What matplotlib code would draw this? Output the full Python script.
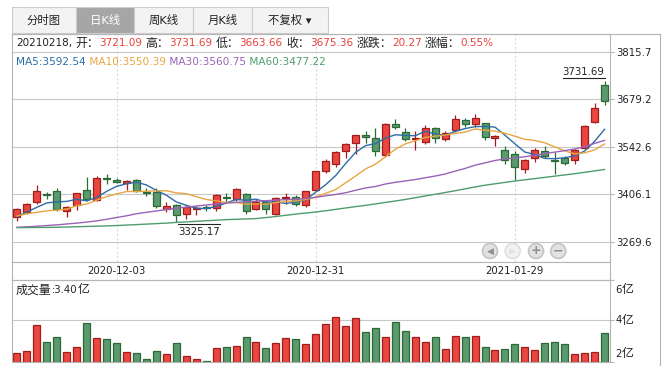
import numpy as np
import pandas as pd
import matplotlib
matplotlib.use("Agg")
import matplotlib.pyplot as plt
from matplotlib.patches import Rectangle, Circle
from matplotlib.transforms import blended_transform_factory

plt.rcParams['font.family'] = ['DejaVu Sans', 'Noto Sans CJK SC']
LAT = ['DejaVu Sans', 'Noto Sans CJK SC']
CJK = ['Noto Sans CJK SC', 'DejaVu Sans']

W, H = 667, 371
FS = 7.3      # latin text
FS_CJK = 8.6  # chinese glyphs are drawn larger in the original

# ---- data (SSE daily K, 2020-11-19 .. 2021-02-18) ----
dates = """2020-11-19 2020-11-20 2020-11-23 2020-11-24 2020-11-25 2020-11-26 2020-11-27 2020-11-30
2020-12-01 2020-12-02 2020-12-03 2020-12-04 2020-12-07 2020-12-08 2020-12-09 2020-12-10 2020-12-11
2020-12-14 2020-12-15 2020-12-16 2020-12-17 2020-12-18 2020-12-21 2020-12-22 2020-12-23 2020-12-24
2020-12-25 2020-12-28 2020-12-29 2020-12-30 2020-12-31 2021-01-04 2021-01-05 2021-01-06 2021-01-07
2021-01-08 2021-01-11 2021-01-12 2021-01-13 2021-01-14 2021-01-15 2021-01-18 2021-01-19 2021-01-20
2021-01-21 2021-01-22 2021-01-25 2021-01-26 2021-01-27 2021-01-28 2021-01-29 2021-02-01 2021-02-02
2021-02-03 2021-02-04 2021-02-05 2021-02-08 2021-02-09 2021-02-10 2021-02-18""".split()

opens = [3340, 3355, 3384, 3406, 3416, 3358, 3376, 3417, 3389, 3453,
         3447, 3437, 3446, 3412, 3413, 3364, 3376, 3349, 3364, 3369,
         3366, 3398, 3393, 3407, 3364, 3385, 3350, 3396, 3397, 3375,
         3419, 3474, 3492, 3530, 3552, 3576, 3568, 3518, 3609, 3585,
         3564, 3556, 3596, 3566, 3591, 3618, 3607, 3610, 3568, 3534,
         3521, 3478, 3510, 3530, 3503, 3510, 3504, 3539, 3613, 3721.09]
highs = [3366, 3381, 3432, 3413, 3423, 3372, 3410, 3456, 3457, 3465,
         3452, 3447, 3449, 3424, 3424, 3383, 3378, 3372, 3372, 3376,
         3407, 3409, 3424, 3410, 3393, 3390, 3398, 3411, 3405, 3415,
         3474, 3508, 3530, 3554, 3577, 3587, 3595, 3610, 3621, 3597,
         3589, 3606, 3600, 3588, 3633, 3625, 3636, 3612, 3575, 3544,
         3530, 3507, 3540, 3545, 3526, 3517, 3537, 3604, 3667, 3731.69]
lows = [3330, 3350, 3377, 3393, 3358, 3342, 3360, 3388, 3386, 3435,
        3437, 3418, 3412, 3400, 3367, 3356, 3325.17, 3335, 3345, 3357,
        3358, 3385, 3388, 3350, 3360, 3350, 3345, 3378, 3372, 3370,
        3414, 3467, 3483, 3510, 3523, 3554, 3515, 3513, 3593, 3559,
        3532, 3551, 3552, 3558, 3585, 3600, 3600, 3563, 3545, 3493,
        3447, 3467, 3500, 3510, 3465, 3490, 3492, 3536, 3610, 3663.66]
closes = [3363.09, 3377.73, 3414.49, 3402.82, 3362.33, 3369.73, 3408.31, 3391.76, 3451.94, 3449.38,
          3442.14, 3444.58, 3416.60, 3410.18, 3371.96, 3373.28, 3347.19, 3369.12, 3367.23, 3366.98,
          3404.87, 3394.90, 3420.57, 3356.78, 3382.32, 3363.11, 3396.56, 3397.29, 3379.04, 3414.45,
          3473.07, 3502.96, 3528.68, 3550.88, 3576.20, 3570.11, 3531.50, 3608.34, 3598.65, 3565.90,
          3566.38, 3596.22, 3566.28, 3583.09, 3621.26, 3606.75, 3624.24, 3569.43, 3573.34, 3505.18,
          3483.07, 3505.28, 3533.68, 3517.31, 3501.86, 3496.33, 3532.44, 3603.49, 3655.09, 3675.36]
# closes of the 9 sessions before the window, for MA5 / MA10
prev_closes = [3312.16, 3373.73, 3360.15, 3342.20, 3338.68, 3310.10, 3346.97, 3339.90, 3347.30]

ma30 = [3311.0, 3312.5, 3314.0, 3316.0, 3318.0, 3320.5, 3323.0, 3326.0, 3329.5, 3334.0,
        3339.0, 3344.0, 3350.0, 3354.0, 3358.0, 3362.0, 3366.0, 3369.0, 3372.0, 3375.0,
        3378.0, 3380.5, 3382.5, 3384.5, 3386.0, 3387.5, 3389.0, 3390.5, 3392.0, 3393.69,
        3397.36, 3401.53, 3405.34, 3410.27, 3417.40, 3424.08, 3428.19, 3435.41, 3440.30, 3444.18,
        3448.32, 3453.38, 3458.37, 3464.13, 3472.44, 3480.22, 3489.46, 3496.13, 3503.00, 3507.61,
        3510.22, 3513.89, 3517.66, 3523.01, 3527.00, 3531.44, 3535.97, 3542.84, 3552.04, 3560.75]
ma60 = [3310.0, 3310.2, 3310.5, 3310.7, 3311.0, 3311.8, 3312.6, 3313.4, 3314.2, 3315.0,
        3316.0, 3317.4, 3318.8, 3320.2, 3321.6, 3323.0, 3325.0, 3326.6, 3328.2, 3329.8,
        3331.4, 3333.0, 3334.0, 3335.0, 3336.0, 3339.0, 3342.0, 3345.5, 3349.0, 3352.0,
        3355.0, 3358.5, 3362.5, 3366.5, 3370.5, 3374.0, 3378.2, 3382.4, 3386.6, 3391.0,
        3396.0, 3401.0, 3406.0, 3411.0, 3416.0, 3421.5, 3427.0, 3432.0, 3436.0, 3440.0,
        3444.0, 3447.5, 3451.0, 3454.5, 3458.0, 3461.5, 3465.0, 3469.0, 3473.0, 3477.22]

# volume, 亿
vol = [2.48, 2.57, 3.77, 2.98, 3.21, 2.52, 2.75, 3.86, 3.17, 3.12,
       2.94, 2.52, 2.48, 2.20, 2.57, 2.43, 2.94, 2.34, 2.20, 2.11,
       2.71, 2.75, 2.81, 3.21, 2.98, 2.71, 2.94, 3.17, 3.12, 2.89,
       3.35, 3.81, 4.14, 3.72, 4.09, 3.44, 3.63, 3.21, 3.91, 3.49,
       3.21, 2.98, 3.21, 2.66, 3.27, 3.21, 3.27, 2.75, 2.62, 2.66,
       2.89, 2.75, 2.62, 2.94, 2.98, 2.89, 2.43, 2.48, 2.52, 3.40]

price_ticks = [3269.6, 3406.1, 3542.6, 3679.2, 3815.7]
vol_ticks = [2, 4, 6]
tick_dates = ['2020-12-03', '2020-12-31', '2021-01-29']
tabs = ['分时图', '日K线', '周K线', '月K线', '不复权 ▾']

RED, RED_EDGE = '#e8463e', '#a11d1d'
GREEN, GREEN_EDGE = '#5b9a6e', '#2b6a36'
TXT, VAL = '#222222', '#e8413b'
GRID, FRAME = '#c8c8c8', '#b5b5b5'
MA_COLORS = ['#2d6ca6', '#e8a542', '#9a62b6', '#4f9d6d']

o, h, l, c = map(np.array, (opens, highs, lows, closes))
x = np.arange(len(c))
s = pd.Series(prev_closes + closes)
ma5 = s.rolling(5).mean().to_numpy()[len(prev_closes):]
ma10 = s.rolling(10).mean().to_numpy()[len(prev_closes):]
up = c >= o
fill = np.where(up, RED, GREEN)
edge = np.where(up, RED_EDGE, GREEN_EDGE)
tick_idx = [dates.index(d) for d in tick_dates]


def rect(x0, y0, x1, y1):
    return [x0 / W, 1 - y1 / H, (x1 - x0) / W, (y1 - y0) / H]


fig = plt.figure(figsize=(W / 100, H / 100), dpi=100)
ax = fig.add_axes(rect(12, 33.5, 609.5, 262.3))
band = fig.add_axes(rect(12, 262.3, 609.5, 280))
axv = fig.add_axes(rect(12, 280, 609.5, 361.7))
over = fig.add_axes([0, 0, 1, 1], zorder=10)
over.set_xlim(0, W)
over.set_ylim(H, 0)
over.axis('off')
over.patch.set_alpha(0)

for a in (ax, band, axv):
    a.set_xlim(-0.5, len(c) - 0.5)
    for sp in a.spines.values():
        sp.set_color(FRAME)
        sp.set_linewidth(0.8)
    a.set_xticks(tick_idx)
    a.tick_params(axis='x', length=0, labelbottom=False)

# ---- price panel ----
ax.set_ylim(3210.39, 3868.0)
ax.vlines(x, l, h, colors=edge, lw=0.9, zorder=2)
ax.bar(x, np.abs(c - o), bottom=np.minimum(o, c), width=0.7, color=fill,
       edgecolor=edge, linewidth=0.9, zorder=3)
for ser, col in zip((ma5, ma10, ma30, ma60), MA_COLORS):
    ax.plot(x, ser, color=col, lw=1.0, zorder=4)
ax.set_yticks(price_ticks)
ax.set_yticklabels([f"{v:.1f}" for v in price_ticks])
ax.yaxis.tick_right()
ax.tick_params(axis='y', length=3, width=0.8, color=FRAME, labelsize=FS, labelcolor=TXT, pad=2)
ax.yaxis.grid(True, color=GRID, lw=0.8)
ax.xaxis.grid(True, color='#d9d9d9', lw=0.8, ls=(0, (2, 2)))
ax.set_axisbelow(True)

# date band
band.set_ylim(0, 1)
band.set_yticks([])
band.xaxis.grid(True, color='#d9d9d9', lw=0.8, ls=(0, (2, 2)))
btr = blended_transform_factory(band.transData, band.transAxes)
for i, d in zip(tick_idx, tick_dates):
    band.text(i, 0.5, d, transform=btr, ha='center', va='center', fontsize=FS, color=TXT)

# ---- volume panel ----
vlo, vhi = 2.09, 5.86
axv.set_ylim(vlo, vhi)
axv.bar(x, np.array(vol) - vlo, bottom=vlo, width=0.7, color=fill, edgecolor=edge, linewidth=0.9)
axv.set_yticks([vlo, 4, vhi])
axv.set_yticklabels([])
axv.yaxis.tick_right()
axv.tick_params(axis='y', length=3, width=0.8, color=FRAME)
axv.yaxis.grid(True, color=GRID, lw=0.8)
axv.set_axisbelow(True)

# ---- frame and tabs ----
over.plot([12, 660], [33.5, 33.5], color=FRAME, lw=0.8)
over.plot([660, 660], [33.5, 365], color=FRAME, lw=0.8)
tab_edges = [11.7, 76, 134, 193, 252, 328]
for k, name in enumerate(tabs):
    sel = k == 1
    over.add_patch(Rectangle((tab_edges[k], 6.7), tab_edges[k + 1] - tab_edges[k], 26.8,
                             facecolor='#a6a6a6' if sel else '#f3f3f3', edgecolor='#cccccc', lw=0.8))
    over.text((tab_edges[k] + tab_edges[k + 1]) / 2, 20.3, name, ha='center', va='center',
              fontsize=8.2, color='white' if sel else TXT)

fig.canvas.draw()
r = fig.canvas.get_renderer()
EM_CJK = FS_CJK * 100 / 72
SPACE = 0.318 * FS * 100 / 72


def chain(x0, y0, parts, size=FS):
    # kind: 'l' latin run, 'c' chinese run (full-width advance), ' ' a plain space
    for txt, col, kind in parts:
        if kind == ' ':
            x0 += SPACE
            continue
        if kind == 'c':
            over.text(x0, y0, txt, color=col, fontsize=FS_CJK, ha='left', va='center', family=CJK)
            x0 += len(txt) * EM_CJK
        else:
            t = over.text(x0, y0, txt, color=col, fontsize=size, ha='left', va='center', family=LAT)
            x0 += t.get_window_extent(r).width


chg = c[-1] - c[-2]
info = [(dates[-1].replace('-', '') + ",", TXT, 'l'), ('', TXT, ' ')]
for name, val in [("开：", f"{o[-1]:.2f}"), ("高：", f"{h[-1]:.2f}"), ("低：", f"{l[-1]:.2f}"),
                  ("收：", f"{c[-1]:.2f}"), ("涨跌：", f"{chg:.2f}"),
                  ("涨幅：", f"{chg / c[-2] * 100:.2f}%")]:
    info += [(name, TXT, 'c'), (val, VAL, 'l'), ('', TXT, ' ')]
chain(16, 43.3, info[:-1], size=7.5)
chain(16, 61.7, [(f"MA5:{ma5[-1]:.2f}", MA_COLORS[0], 'l'), (f" MA10:{ma10[-1]:.2f}", MA_COLORS[1], 'l'),
                 (f" MA30:{ma30[-1]:.2f}", MA_COLORS[2], 'l'), (f" MA60:{ma60[-1]:.2f}", MA_COLORS[3], 'l')],
      size=7.6)
chain(16, 290, [("成交量", TXT, 'c'), (f":{vol[-1]:.2f}", TXT, 'l'), ("亿", TXT, 'c')])

# volume axis labels, held inside the panel near its edges
for v in vol_ticks:
    vy = np.clip(v, vlo + 0.36, vhi - 0.46)
    px, py = axv.transData.transform((len(c) - 0.5, vy))
    chain(px + 6, H - py, [(f"{v}", TXT, 'l'), ("亿", TXT, 'c')])


def to_px(i, p):
    dx, dy = ax.transData.transform((i, p))
    return dx, H - dy


# high / low marks
ih, il = int(np.argmax(h)), int(np.argmin(l))
hx, hy = to_px(ih, h[ih])
t = over.text(hx, hy - 4, f"{h[ih]:.2f}", ha='right', va='bottom', fontsize=FS, color=TXT)
bb = t.get_window_extent(r)
over.plot([hx - bb.width, hx], [hy - 2.7, hy - 2.7], color=TXT, lw=0.8)
lx, ly = to_px(il, l[il])
t = over.text(lx + 2, ly + 4.5, f"{l[il]:.2f}", ha='left', va='top', fontsize=FS, color=TXT)
bb = t.get_window_extent(r)
over.plot([lx + 2, lx + 2 + bb.width], [ly + 1.6, ly + 1.6], color=TXT, lw=0.8)

# zoom / scroll buttons
for bx, sym, off in [(490, '◀', False), (512.7, '▶', True), (536, '+', False), (558.3, '−', False)]:
    over.add_patch(Circle((bx, 251), 7.5, facecolor='#f2f2f2' if off else '#e2e2e2',
                          edgecolor='#dedede' if off else '#c4c4c4', lw=1.2))
    over.text(bx, 251, sym, ha='center', va='center', fontsize=6.5 if sym in '◀▶' else 9,
              color='#e2e2e2' if off else '#8f8f8f', fontweight='bold')

fig.savefig('out.png', dpi=100)
